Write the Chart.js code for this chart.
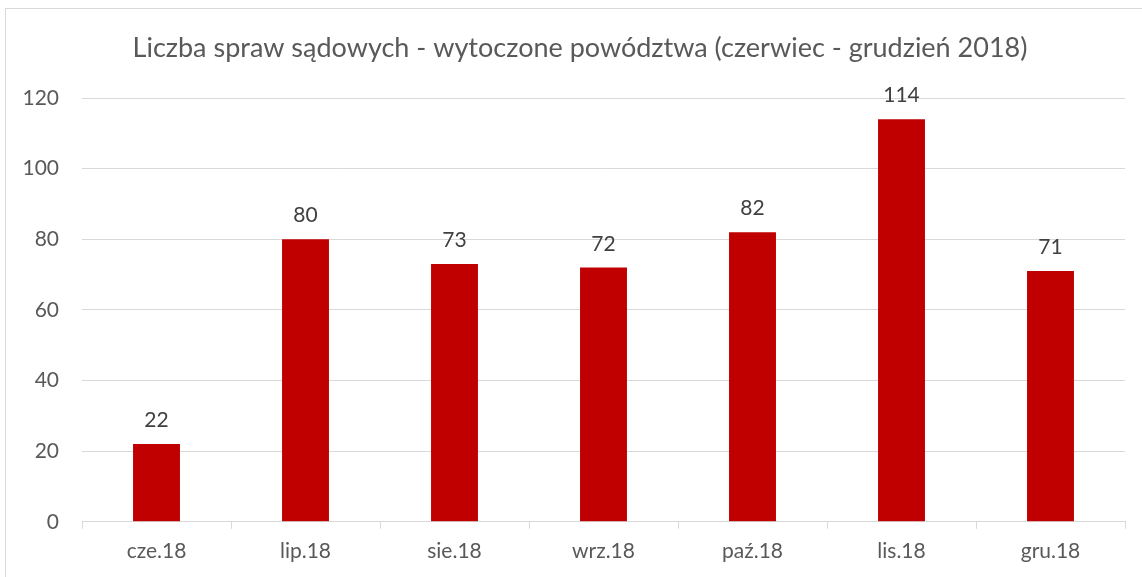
<!DOCTYPE html>
<html>
<head>
<meta charset="utf-8">
<script src="https://cdn.jsdelivr.net/npm/chart.js@4/dist/chart.umd.min.js"></script>
<style>
  body { margin: 0; background: #fff; overflow: hidden; }
  #wrap { position: relative; width: 1142px; height: 577px; }
  #frame { position: absolute; left: 5px; top: 8px; width: 1200px; height: 700px; border: 1px solid #d9d9d9; box-sizing: border-box; }
  canvas { position: absolute; left: 0; top: 0; }
</style>
</head>
<body>
<div id="wrap">
  <div id="frame"></div>
  <canvas id="chart" width="1142" height="577"></canvas>
</div>
<script>
const chartTitle = 'Liczba spraw sądowych - wytoczone powództwa (czerwiec - grudzień 2018)';
const months = ['cze.18', 'lip.18', 'sie.18', 'wrz.18', 'paź.18', 'lis.18', 'gru.18'];
const suits = [22, 80, 73, 72, 82, 114, 71];

// value labels above the bars
const barLabels = {
  id: 'barLabels',
  afterDatasetsDraw(chart) {
    const ctx = chart.ctx;
    const meta = chart.getDatasetMeta(0);
    ctx.save();
    ctx.font = '21px Lato';
    ctx.fillStyle = '#404040';
    ctx.textAlign = 'center';
    ctx.textBaseline = 'alphabetic';
    meta.data.forEach((bar, i) => {
      ctx.fillText(String(suits[i]), bar.x, bar.y - 17);
    });
    ctx.restore();
  }
};

// title drawn by hand, centred a bit right of the canvas middle like the original
const chartHeading = {
  id: 'chartHeading',
  afterDraw(chart) {
    const ctx = chart.ctx;
    ctx.save();
    ctx.font = '27px Lato';
    ctx.fillStyle = '#595959';
    ctx.textAlign = 'center';
    ctx.textBaseline = 'middle';
    ctx.fillText(chartTitle, chart.width / 2 + 9, 48);
    ctx.restore();
  }
};

const ctx = document.getElementById('chart').getContext('2d');
new Chart(ctx, {
  type: 'bar',
  data: {
    labels: months,
    datasets: [{
      data: suits,
      backgroundColor: '#c00000',
      borderWidth: 0,
      barPercentage: 0.315,
      categoryPercentage: 1
    }]
  },
  options: {
    responsive: false,
    animation: false,
    layout: { padding: { left: 0, right: 17, top: 98, bottom: 3 } },
    plugins: {
      legend: { display: false },
      tooltip: { enabled: false },
      title: { display: false }
    },
    scales: {
      x: {
        grid: { display: true, drawOnChartArea: false, drawTicks: true, tickLength: 7, color: '#d9d9d9' },
        border: { display: true, color: '#d9d9d9', width: 1 },
        ticks: { color: '#595959', font: { family: 'Lato', size: 21 }, padding: 10 }
      },
      y: {
        min: 0,
        max: 120,
        afterFit(scale) { scale.width = 82; },
        grid: { color: '#d9d9d9', drawTicks: false },
        border: { display: false },
        ticks: { stepSize: 20, color: '#595959', font: { family: 'Lato', size: 21 }, padding: 23 }
      }
    }
  },
  plugins: [barLabels, chartHeading]
});
</script>
</body>
</html>
